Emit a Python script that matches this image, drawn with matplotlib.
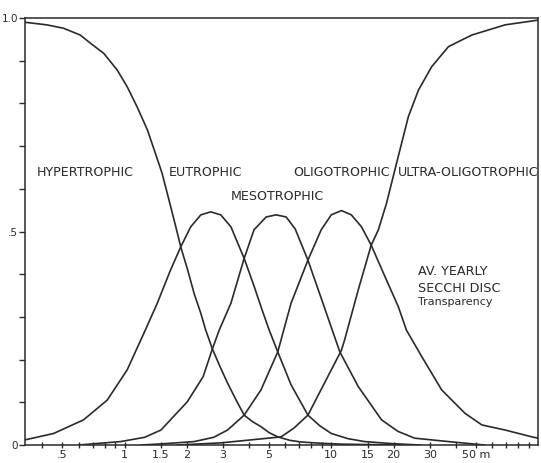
import matplotlib
matplotlib.use("Agg")
import matplotlib.pyplot as plt
from matplotlib.ticker import FixedLocator, NullFormatter

# ---- data (Secchi depth in m, probability) ----
hyper_x = [0.33, 0.42, 0.507, 0.611, 0.684, 0.794, 0.922, 1.03, 1.15, 1.29, 1.41, 1.52, 1.64, 1.77, 1.87,
           2.02, 2.17, 2.34, 2.47, 2.66, 2.90, 3.15, 3.45, 3.79, 4.15, 4.57, 5.0, 5.51, 6.3, 7.15, 9.0, 11.2, 15.0, 21.8]
hyper_y = [0.99, 0.984, 0.976, 0.960, 0.941, 0.917, 0.878, 0.839, 0.792, 0.738, 0.683, 0.636, 0.574, 0.511, 0.464,
           0.410, 0.355, 0.308, 0.269, 0.225, 0.183, 0.145, 0.107, 0.070, 0.055, 0.043, 0.029, 0.019, 0.011, 0.007, 0.004, 0.002, 0.001, 0.0]

eu_x = [0.33, 0.454, 0.634, 0.824, 1.03, 1.26, 1.44, 1.67, 1.87, 2.09, 2.34, 2.61, 2.92, 3.27, 3.79, 4.24, 4.57,
        5.0, 5.51, 6.39, 7.71, 8.8, 10.0, 12.0, 14.5, 20.0, 27.0]
eu_y = [0.012, 0.027, 0.059, 0.105, 0.176, 0.269, 0.332, 0.410, 0.464, 0.511, 0.539, 0.546, 0.539, 0.511, 0.437, 0.371, 0.324,
        0.270, 0.218, 0.141, 0.070, 0.045, 0.027, 0.015, 0.008, 0.003, 0.0]

meso_x = [0.60, 0.957, 1.25, 1.50, 2.01, 2.40, 2.66, 2.87, 3.27, 3.79, 4.23, 4.84, 5.41, 6.05, 6.69, 7.71, 9.1, 11.0,
          13.5, 17.5, 21.0, 25.3, 36.9, 55.0]
meso_y = [0.0, 0.008, 0.018, 0.035, 0.101, 0.160, 0.225, 0.269, 0.332, 0.437, 0.504, 0.534, 0.539, 0.534, 0.506, 0.433, 0.333, 0.218,
          0.137, 0.059, 0.032, 0.016, 0.008, 0.0]

oligo_x = [1.2, 1.55, 2.17, 2.7, 3.15, 3.79, 4.57, 5.51, 6.39, 7.71, 8.94, 10.0, 11.2, 12.5, 14.0, 15.6, 18.2, 21.1,
           23.1, 27.4, 34.2, 44.4, 53.5, 69.4, 93.5, 100.0]
oligo_y = [0.0, 0.003, 0.008, 0.018, 0.035, 0.070, 0.129, 0.218, 0.332, 0.433, 0.504, 0.539, 0.549, 0.539, 0.511, 0.468, 0.394, 0.324,
           0.269, 0.207, 0.129, 0.074, 0.047, 0.035, 0.019, 0.016]

ultra_x = [1.8, 2.92, 4.09, 5.72, 6.61, 7.71, 9.27, 11.2, 11.6, 13.5, 15.6, 16.9, 18.5, 20.3, 21.9, 23.6, 26.4, 30.6,
           36.9, 47.8, 69.4, 100.0]
ultra_y = [0.0, 0.005, 0.012, 0.019, 0.040, 0.070, 0.145, 0.222, 0.246, 0.363, 0.468, 0.504, 0.566, 0.644, 0.707, 0.769, 0.831, 0.886,
           0.933, 0.960, 0.984, 0.995]

xtick_vals = [0.5, 1, 1.5, 2, 3, 5, 10, 15, 20, 30, 50]
xtick_labels = [".5", "1", "1.5", "2", "3", "5", "10", "15", "20", "30", "50 m"]
xminor_vals = [0.4, 0.6, 0.7, 0.8, 0.9, 4, 6, 7, 8, 9, 40, 60, 70, 80, 90]
ytick_vals = [0, 0.5, 1.0]
ytick_labels = ["0", ".5", "1.0"]
yminor_vals = [0.1, 0.2, 0.3, 0.4, 0.6, 0.7, 0.8, 0.9]

labels = ["HYPERTROPHIC", "EUTROPHIC", "MESOTROPHIC", "OLIGOTROPHIC", "ULTRA-OLIGOTROPHIC"]
label_x = [0.378, 1.635, 3.27, 6.54, 21.1]
label_y = [0.638, 0.638, 0.581, 0.638, 0.638]

note_lines = ["AV. YEARLY", "SECCHI DISC", "Transparency"]
note_x = 26.3
note_y = [0.406, 0.367, 0.336]

# ---- drawing ----
ink = "#2a2a2a"
fig = plt.figure(figsize=(5.41, 4.63), dpi=100)
ax = fig.add_axes([25 / 541, 18 / 463, 513 / 541, 427 / 463])

for xs, ys in [(hyper_x, hyper_y), (eu_x, eu_y), (meso_x, meso_y), (oligo_x, oligo_y), (ultra_x, ultra_y)]:
    ax.plot(xs, ys, color=ink, lw=1.2, solid_joinstyle="round")

ax.set_xscale("log")
ax.set_xlim(0.33, 100)
ax.set_ylim(0, 1.0)

ax.xaxis.set_major_locator(FixedLocator(xtick_vals))
ax.set_xticklabels(xtick_labels)
ax.xaxis.set_minor_locator(FixedLocator(xminor_vals))
ax.xaxis.set_minor_formatter(NullFormatter())
ax.set_yticks(ytick_vals)
ax.set_yticklabels(ytick_labels)
ax.yaxis.set_minor_locator(FixedLocator(yminor_vals))

ax.tick_params(axis="x", which="both", direction="inout", length=5, width=1.0, color=ink,
               labelsize=8, labelcolor=ink, pad=1)
ax.tick_params(axis="y", which="both", direction="out", length=4, width=1.0, color=ink,
               labelsize=7.5, labelcolor=ink, pad=1)
for s in ax.spines.values():
    s.set_color(ink)
    s.set_linewidth(1.1)

for t, x, y in zip(labels, label_x, label_y):
    ax.text(x, y, t, fontsize=9.1, color=ink, ha="left", va="center")
note_sizes = [9.2, 9.2, 8.0]
for t, y, fs in zip(note_lines, note_y, note_sizes):
    ax.text(note_x, y, t, fontsize=fs, color=ink, ha="left", va="center")

fig.savefig("out.png", dpi=100)
